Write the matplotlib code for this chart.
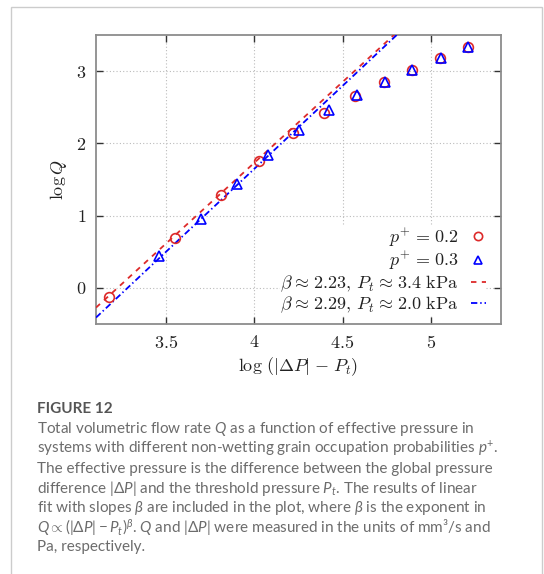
import matplotlib
matplotlib.use("Agg")
import matplotlib.pyplot as plt
import numpy as np
from matplotlib.patches import Rectangle

plt.rcParams["mathtext.fontset"] = "cm"
plt.rcParams["mathtext.rm"] = "Lato"
plt.rcParams["mathtext.it"] = "Lato:italic"
plt.rcParams["mathtext.bf"] = "Lato:bold"
plt.rcParams["font.family"] = ["Lato", "DejaVu Sans"]

# log(|dP| - Pt) and log Q for the two occupation probabilities
x_p02 = [3.171, 3.548, 3.808, 4.027, 4.219, 4.396, 4.571, 4.738, 4.896, 5.056, 5.214]
y_p02 = [-0.129, 0.697, 1.284, 1.759, 2.137, 2.424, 2.659, 2.843, 3.013, 3.175, 3.338]
x_p03 = [3.460, 3.695, 3.899, 4.078, 4.254, 4.422, 4.581, 4.740, 4.896, 5.057, 5.215]
y_p03 = [0.443, 0.960, 1.431, 1.842, 2.188, 2.456, 2.669, 2.849, 3.019, 3.180, 3.338]

# linear fits: log Q = beta * x + c
fit_beta = [2.23, 2.29]
fit_c = [-7.186, -7.510]

xticks = [3.5, 4, 4.5, 5]
yticks = [0, 1, 2, 3]

red = "#dd2a2a"
blue = "#0000ff"
ink = "#222222"
sp = r"\hspace{0.1}"

fig = plt.figure(figsize=(5.44, 5.74), dpi=100)
ax = fig.add_axes([96 / 544, 1 - 324 / 574, 405 / 544, 289 / 574])

xfit = np.array([3.1, 5.4])
ax.plot(xfit, fit_beta[0] * xfit + fit_c[0], color=red, lw=1.3, ls=(0, (3.0, 3.0)),
        label=rf"$\beta{sp}\approx{sp}2.23,\, P_t{sp}\approx{sp}3.4\ \mathrm{{kPa}}$", zorder=3)
ax.plot(xfit, fit_beta[1] * xfit + fit_c[1], color=blue, lw=1.3, ls=(0, (3.5, 1.6, 0.8, 1.6)),
        label=rf"$\beta{sp}\approx{sp}2.29,\, P_t{sp}\approx{sp}2.0\ \mathrm{{kPa}}$", zorder=3)
ax.plot(x_p02, y_p02, ls="none", marker="o", ms=7, mfc="none", mec=red, mew=1.2,
        label=rf"$p^{{+}}{sp}={sp}0.2$", zorder=4)
ax.plot(x_p03, y_p03, ls="none", marker="^", ms=7.5, mfc="none", mec=blue, mew=1.2,
        label=rf"$p^{{+}}{sp}={sp}0.3$", zorder=4)

ax.set_xlim(3.1, 5.4)
ax.set_ylim(-0.5, 3.5)
ax.set_xticks(xticks, labels=[f"${t}$" for t in xticks])
ax.set_yticks(yticks, labels=[f"${t}$" for t in yticks])
ax.tick_params(direction="in", length=5, width=1.0, color="#333333", labelsize=13,
               top=True, right=True, pad=7, labelcolor=ink)
ax.grid(True, color="#bbbbbb", lw=0.8, ls=(0, (1, 2)))
for s in ax.spines.values():
    s.set_color("#8c8c8c")
    s.set_linewidth(1.3)

ax.set_xlabel(rf"$\log\,(|\Delta P|{sp}-{sp}P_t)$", fontsize=13, color=ink, labelpad=3)
ax.set_ylabel(r"$\log Q$", fontsize=13, color=ink, labelpad=5)

handles, labels = ax.get_legend_handles_labels()
order = [2, 3, 0, 1]
leg = ax.legend([handles[i] for i in order], [labels[i] for i in order],
                loc="lower right", bbox_to_anchor=(0.985, 0.0), markerfirst=False,
                fontsize=13, frameon=True, framealpha=1, facecolor="white",
                edgecolor="none", fancybox=False, handlelength=0.85, handletextpad=0.65,
                labelspacing=0.05, borderpad=0.0, numpoints=1, markerscale=0.85)
for t in leg.get_texts():
    t.set_color(ink)

# outer frame of the figure panel
fig.patches.append(Rectangle((11 / 544, -0.05), 531 / 544, 1.05 - 7 / 574,
                             transform=fig.transFigure, fill=False,
                             edgecolor="#cccccc", lw=1.0))

fig.text(37 / 544, 1 - 409 / 574, "FIGURE 12", fontsize=11, fontweight="bold",
         color="#555555", va="center", ha="left")

caption = [
    r"Total volumetric flow rate $Q$ as a function of effective pressure in",
    r"systems with different non-wetting grain occupation probabilities $p^{+}$.",
    r"The effective pressure is the difference between the global pressure",
    r"difference $|\Delta P|$ and the threshold pressure $P_t$. The results of linear",
    r"fit with slopes $\beta$ are included in the plot, where $\beta$ is the exponent in",
    r"$Q \propto (|\Delta P| - P_t)^{\beta}$. $Q$ and $|\Delta P|$ were measured in the units of mm³/s and",
    r"Pa, respectively.",
]
y0 = 429.3
for i, line in enumerate(caption):
    t = fig.text(37 / 544, 1 - (y0 + i * 19.6) / 574, line, fontsize=11,
                 color="#6c6c6c", va="center", ha="left")
    t.set_math_fontfamily("custom")

fig.savefig("out.png", dpi=100)
